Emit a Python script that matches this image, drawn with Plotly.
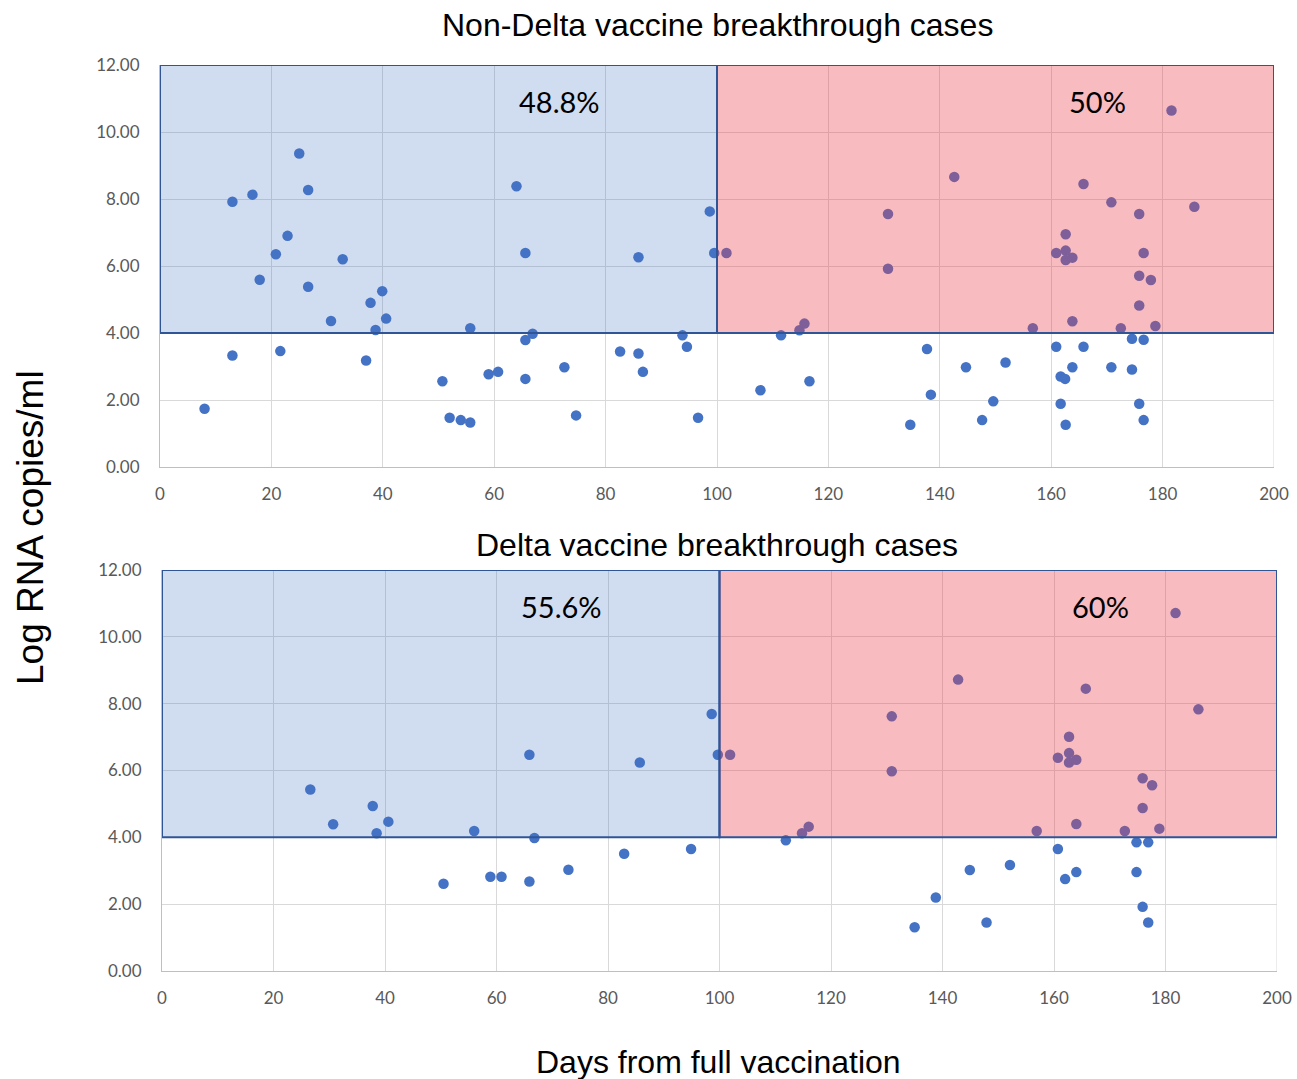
import plotly.graph_objects as go

# Non-Delta breakthrough cases: days from full vaccination and log RNA copies/ml
non_delta_days = [
    8, 13, 13, 16.6, 17.9, 20.8, 21.6, 22.9, 25, 26.6, 26.6, 30.7, 32.8, 37, 37.8,
    38.7, 39.9, 40.6, 50.7, 52, 54, 55.7, 55.7, 59, 60.7, 64, 65.6, 65.6, 65.6, 66.9,
    72.6, 74.7, 82.6, 85.9, 85.9, 86.7, 93.8, 94.6, 96.6, 98.7, 99.5,
    101.7, 107.8, 111.5, 114.8, 115.7, 116.6, 130.7, 130.7, 134.7, 137.7, 138.4,
    142.6, 144.7, 147.6, 149.6, 151.8, 156.7, 160.9, 160.9, 161.7, 161.7, 162.5,
    162.6, 162.6, 162.6, 162.6, 163.8, 163.8, 163.8, 165.8, 165.8, 170.8, 170.8,
    172.5, 174.5, 174.5, 175.8, 175.8, 175.8, 175.8, 176.6, 176.6, 176.6, 177.9,
    178.7, 181.6, 185.7,
]
non_delta_vals = [
    1.74, 7.92, 3.33, 8.13, 5.59, 6.35, 3.46, 6.90, 9.36, 8.27, 5.38, 4.36, 6.20, 3.18, 4.90,
    4.09, 5.25, 4.43, 2.56, 1.47, 1.40, 1.33, 4.14, 2.77, 2.84, 8.38, 6.39, 3.79, 2.63, 3.98,
    2.98, 1.54, 3.45, 6.26, 3.39, 2.84, 3.93, 3.59, 1.47, 7.63, 6.39,
    6.39, 2.29, 3.93, 4.08, 4.28, 2.56, 7.55, 5.92, 1.26, 3.52, 2.16,
    8.66, 2.98, 1.40, 1.96, 3.12, 4.14, 6.39, 3.59, 2.70, 1.89, 2.63,
    6.95, 6.46, 6.18, 1.26, 6.25, 4.35, 2.98, 8.45, 3.59, 7.90, 2.98,
    4.14, 3.83, 2.91, 7.55, 5.71, 4.82, 1.89, 6.39, 3.80, 1.40, 5.58,
    4.21, 10.64, 7.77,
]

# Delta breakthrough cases
delta_days = [
    26.6, 30.7, 37.8, 38.5, 40.6, 50.5, 56.0, 58.9, 60.9, 65.9, 65.9, 66.8, 72.9,
    82.9, 85.7, 94.9, 98.6, 99.7,
    101.9, 111.9, 114.8, 116.0, 130.9, 130.9, 135.0, 138.8, 142.8, 144.9, 147.9,
    152.1, 156.9, 160.7, 160.7, 162.0, 162.7, 162.7, 162.7, 164.0, 164.0, 164.0,
    165.7, 172.7, 174.8, 174.8, 175.9, 175.9, 175.9, 176.9, 176.9, 177.6, 178.9,
    181.8, 185.9,
]
delta_vals = [
    5.43, 4.39, 4.94, 4.12, 4.47, 2.61, 4.19, 2.82, 2.82, 6.47, 2.68, 3.98, 3.03,
    3.51, 6.24, 3.65, 7.69, 6.47,
    6.47, 3.91, 4.12, 4.32, 7.62, 5.98, 1.31, 2.20, 8.72, 3.02, 1.45,
    3.17, 4.19, 6.38, 3.65, 2.75, 7.01, 6.52, 6.24, 6.32, 4.40, 2.96,
    8.45, 4.19, 3.85, 2.96, 5.77, 4.88, 1.92, 3.85, 1.45, 5.56, 4.26,
    10.71, 7.83,
]

panel_titles = ["Non-Delta vaccine breakthrough cases", "Delta vaccine breakthrough cases"]
pct_early = ["48.8%", "55.6%"]
pct_late = ["50%", "60%"]

x_ticks = [0, 20, 40, 60, 80, 100, 120, 140, 160, 180, 200]
y_ticks = [0, 2, 4, 6, 8, 10, 12]
split_day = 100
threshold = 4

W, H = 1297, 1079
# plot-area pixel boxes (left, right, top, bottom)
boxes = [(160, 1274, 65, 467), (162, 1277, 570, 971)]

MARKER = "#4472C4"
BORDER = "#2F5597"
GRID = "#D9D9D9"
TICK_FONT = dict(family="Lato, Carlito, sans-serif", size=17, color="#595959")
SANS = "Liberation Sans, Arial, sans-serif"

fig = go.Figure()
series = [(non_delta_days, non_delta_vals), (delta_days, delta_vals)]

for i, (xs, ys) in enumerate(series):
    n = "" if i == 0 else str(i + 1)
    fig.add_trace(go.Scatter(
        x=xs, y=ys, mode="markers", xaxis="x" + n, yaxis="y" + n,
        marker=dict(size=10.5, color=MARKER), showlegend=False, hoverinfo="x+y",
    ))
    l, r, t, b = boxes[i]
    common = dict(showgrid=True, gridcolor=GRID, gridwidth=1, zeroline=False,
                  showline=True, linecolor="#BFBFBF", linewidth=1, automargin=False,
                  tickfont=TICK_FONT, ticks="", fixedrange=True)
    fig.update_layout({
        "xaxis" + n: dict(domain=[l / W, r / W], range=[0, 200], tickvals=x_ticks,
                          anchor="y" + n, ticklabelstandoff=12, **common),
        "yaxis" + n: dict(domain=[1 - b / H, 1 - t / H], range=[0, 12], tickvals=y_ticks,
                          tickformat=".2f", anchor="x" + n, ticklabelstandoff=16, **common),
    })
    xr, yr = "x" + n, "y" + n
    # right and top grid edges
    fig.add_shape(type="line", xref=xr, yref=yr, x0=200, x1=200, y0=0, y1=12,
                  line=dict(color=GRID, width=1), layer="below")
    fig.add_shape(type="line", xref=xr, yref=yr, x0=0, x1=200, y0=12, y1=12,
                  line=dict(color=GRID, width=1), layer="below")
    # shaded quadrants above the threshold
    fig.add_shape(type="rect", xref=xr, yref=yr, x0=0, x1=split_day, y0=threshold, y1=12,
                  fillcolor="rgba(68,114,196,0.25)", line=dict(color=BORDER, width=2),
                  layer="above")
    fig.add_shape(type="rect", xref=xr, yref=yr, x0=split_day, x1=200, y0=threshold, y1=12,
                  fillcolor="rgba(235,60,75,0.35)", line=dict(color=BORDER, width=2),
                  layer="above")
    fig.add_annotation(xref=xr, yref=yr, x=71.7, y=10.9, text=pct_early[i], showarrow=False,
                       font=dict(family="Lato, Carlito, sans-serif", size=29, color="#000000"))
    fig.add_annotation(xref=xr, yref=yr, x=168.3, y=10.9, text=pct_late[i], showarrow=False,
                       font=dict(family="Lato, Carlito, sans-serif", size=29, color="#000000"))

TITLE_FONT = dict(family=SANS, size=32, color="#000000")
fig.add_annotation(xref="paper", yref="paper", x=717 / W, y=1 - 25 / H, text=panel_titles[0],
                   xanchor="center", yanchor="middle", showarrow=False, font=TITLE_FONT)
fig.add_annotation(xref="paper", yref="paper", x=717 / W, y=1 - 545 / H, text=panel_titles[1],
                   xanchor="center", yanchor="middle", showarrow=False, font=TITLE_FONT)
fig.add_annotation(xref="paper", yref="paper", x=30 / W, y=1 - 528 / H, text="Log RNA copies/ml",
                   xanchor="center", yanchor="middle", showarrow=False, textangle=-90,
                   font=dict(family=SANS, size=37, color="#000000"))
fig.add_annotation(xref="paper", yref="paper", x=718 / W, y=1 - 1062 / H, text="Days from full vaccination",
                   xanchor="center", yanchor="middle", showarrow=False,
                   font=dict(family=SANS, size=32, color="#000000"))

fig.update_layout(
    width=W, height=H, margin=dict(l=0, r=0, t=0, b=0, autoexpand=False),
    paper_bgcolor="white", plot_bgcolor="white",
)

fig.write_html("out.html")
